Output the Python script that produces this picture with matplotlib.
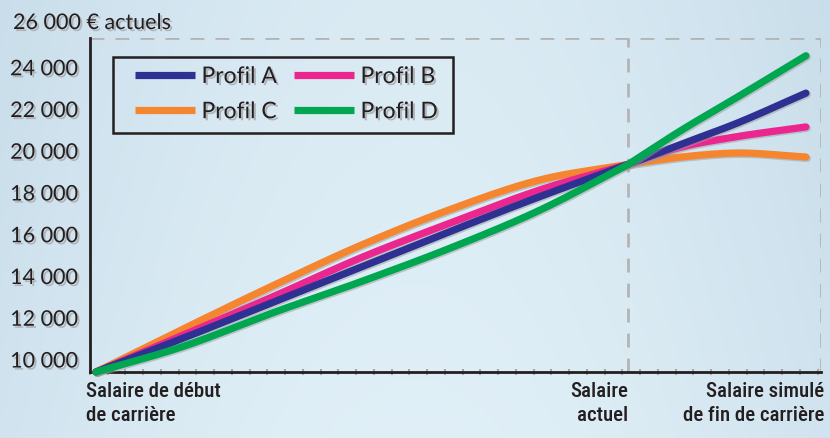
import numpy as np
import matplotlib
matplotlib.use("Agg")
import matplotlib.pyplot as plt
import matplotlib.patheffects as pe
import matplotlib.transforms as mtransforms
from matplotlib.patches import Rectangle
from matplotlib.ticker import FixedLocator
from matplotlib import font_manager

# Career position in years; salary in constant euros
years = [0, 5, 10, 15, 20, 25, 30, 33, 36, 40]
profil_a = [10000, 11650, 13350, 15050, 16750, 18400, 19950, 20920, 21880, 23360]
profil_b = [10000, 11800, 13620, 15500, 17150, 18720, 19950, 20780, 21260, 21740]
profil_c = [10000, 12100, 14150, 16100, 17800, 19200, 19950, 20300, 20490, 20300]
profil_d = [10000, 11250, 12850, 14350, 15950, 17750, 19950, 21590, 23100, 25150]

y_ticks = [10000, 12000, 14000, 16000, 18000, 20000, 22000, 24000]
top_value = 26000
current_year = 30
x_labels = ["Salaire de début\nde carrière", "Salaire\nactuel",
            "Salaire simulé\nde fin de carrière"]

colors = {"Profil A": "#2e3192", "Profil B": "#ec268f",
          "Profil C": "#f5862f", "Profil D": "#00a650"}
TEXT = "#231f20"

# narrow font for the bottom labels, if there is one
names = {f.name for f in font_manager.fontManager.ttflist}
narrow = "Roboto"
for cand in ["Liberation Sans Narrow", "Roboto Condensed", "Open Sans Condensed",
             "DejaVu Sans Condensed"]:
    if cand in names:
        narrow = cand
        break


def smooth(x, y, n=200):
    # cubic hermite through the read points, just to draw round curves
    x = np.asarray(x, float)
    y = np.asarray(y, float)
    m = np.gradient(y, x)
    xs = np.linspace(x[0], x[-1], n)
    i = np.clip(np.searchsorted(x, xs) - 1, 0, len(x) - 2)
    h = x[i + 1] - x[i]
    t = (xs - x[i]) / h
    h00 = 2 * t**3 - 3 * t**2 + 1
    h10 = t**3 - 2 * t**2 + t
    h01 = -2 * t**3 + 3 * t**2
    h11 = t**3 - t**2
    return xs, h00 * y[i] + h10 * h * m[i] + h01 * y[i + 1] + h11 * h * m[i + 1]


def smooth_split(x, y, at):
    # smooth each side of the "salaire actuel" point on its own
    k = list(x).index(at)
    x1, y1 = smooth(x[:k + 1], y[:k + 1])
    x2, y2 = smooth(x[k:], y[k:])
    return np.concatenate([x1, x2[1:]]), np.concatenate([y1, y2[1:]])


fig = plt.figure(figsize=(8.3, 4.38), dpi=100)

# background (light blue wash)
bg = fig.add_axes([0, 0, 1, 1], zorder=-10)
GX, GY = np.meshgrid(np.linspace(0, 1, 200), np.linspace(0, 1, 100))
c0 = np.array([0.79, 0.87, 0.92])
c1 = np.array([0.88, 0.94, 0.97])
w = (np.sin(GX * np.pi) * 0.7 + GY * 0.3)[..., None]
bg.imshow(c0 * (1 - w) + c1 * w, aspect="auto", extent=[0, 1, 0, 1])
bg.axis("off")

xmin, xmax = -0.34, 40.85
ax = fig.add_axes([90 / 830, 1 - 372 / 438, (821 - 90) / 830, (372 - 38) / 438])
ax.patch.set_alpha(0)
ax.set_xlim(xmin, xmax)
ax.set_ylim(10000, top_value)

# dashed frame lines
dash = dict(color="#b4b4b4", lw=2, dashes=(5, 4), zorder=1)
ax.axhline(top_value, **dash)
ax.axvline(current_year, **dash)
ax.axvline(xmax - 0.02, **dash)

line_fx = [pe.SimpleLineShadow(offset=(1, -1), shadow_color="#9a9a9a", alpha=0.5),
           pe.Normal()]
data = {"Profil A": profil_a, "Profil B": profil_b,
        "Profil C": profil_c, "Profil D": profil_d}
handles = {}
for name in ["Profil C", "Profil B", "Profil A", "Profil D"]:
    xs, ys = smooth_split(years, data[name], current_year)
    ln, = ax.plot(xs, ys, color=colors[name], lw=5.2, solid_capstyle="round",
                  solid_joinstyle="round", label=name, path_effects=line_fx,
                  zorder=3, clip_on=False)
    handles[name] = ln

# axes
for s in ["top", "right"]:
    ax.spines[s].set_visible(False)
for s in ["left", "bottom"]:
    ax.spines[s].set_linewidth(2)
    ax.spines[s].set_color(TEXT)
ax.spines["left"].set_bounds(10000, top_value)

ax.set_xticks([])
ax.xaxis.set_minor_locator(FixedLocator(np.arange(xmin, xmax, 1.0)))
ax.tick_params(axis="x", which="minor", direction="inout", length=5,
               width=1.5, color="#a8a8a8")

txt_fx = [pe.withSimplePatchShadow(offset=(1.5, -1.5), shadow_rgbFace="#b0b4b8",
                                   alpha=1)]
ax.set_yticks(y_ticks)
ax.set_yticklabels([f"{v:,}".replace(",", " ") for v in y_ticks])
ax.tick_params(axis="y", length=0, pad=9, labelsize=15.5, labelcolor=TEXT)
off = mtransforms.ScaledTranslation(0, 12.5 / 100, fig.dpi_scale_trans)
for lab in ax.get_yticklabels():
    lab.set_fontfamily("Lato")
    lab.set_transform(lab.get_transform() + off)
    lab.set_path_effects(txt_fx)

ax.annotate(f"{top_value:,}".replace(",", " ") + " € actuels",
            xy=(0, top_value), xycoords=("axes fraction", "data"),
            xytext=(-77, 15), textcoords="offset pixels", ha="left", va="center",
            fontsize=15.5, family="Lato", color=TEXT, path_effects=txt_fx)

# x labels
xl = dict(fontsize=15, family=narrow, fontweight=500, color=TEXT,
          va="top", linespacing=1.35)
if narrow == "DejaVu Sans Condensed":
    xl["fontstretch"] = "condensed"
ax.annotate(x_labels[0], xy=(0, 0), xycoords="axes fraction",
            xytext=(-4, -10), textcoords="offset pixels", ha="left", **xl)
ax.annotate(x_labels[1], xy=(current_year, 10000), xycoords="data",
            xytext=(0, -10), textcoords="offset pixels", ha="right",
            multialignment="right", **xl)
ax.annotate(x_labels[2], xy=(1, 0), xycoords="axes fraction",
            xytext=(3, -10), textcoords="offset pixels", ha="right",
            multialignment="right", **xl)

# legend: A B on first row, C D on second; frame drawn separately
order = ["Profil A", "Profil C", "Profil B", "Profil D"]
leg = ax.legend([handles[n] for n in order], order, ncol=2,
                loc="upper left", bbox_to_anchor=((135 - 90) / 731, 1 - (66 - 38) / 334),
                frameon=False, handlelength=2.6, handletextpad=0.3,
                columnspacing=0.75, labelspacing=0.62, borderpad=0,
                borderaxespad=0, prop={"family": "Lato", "size": 16.5})
for t in leg.get_texts():
    t.set_color(TEXT)
    t.set_path_effects(txt_fx)
for h in leg.legend_handles:
    h.set_path_effects([pe.Normal()])
    h.set_solid_capstyle("butt")
fig.patches.append(Rectangle((113 / 830, 1 - 133 / 438), 340 / 830, 76 / 438,
                             transform=fig.transFigure, fill=False,
                             edgecolor=TEXT, lw=1.8, zorder=5))

fig.savefig("out.png", dpi=100)
